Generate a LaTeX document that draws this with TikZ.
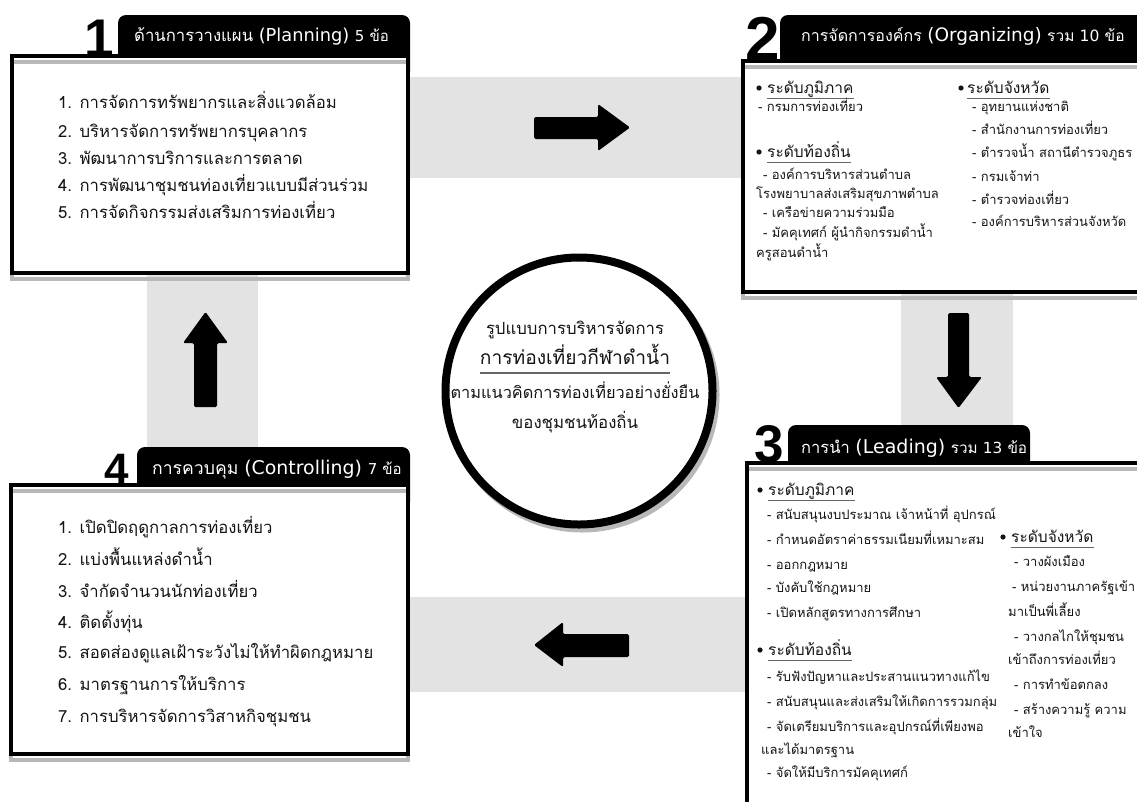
\documentclass[tikz,border=0pt]{standalone}
\usepackage{fontspec}
\setmainfont[Script=Thai]{Loma}
\newfontfamily\numfont{Liberation Sans}
\newfontfamily\latf{DejaVu Sans}
\usetikzlibrary{calc}
\newcommand\fs[1]{\fontsize{#1}{#1}\selectfont}
\definecolor{band}{gray}{0.89}
\definecolor{shad}{gray}{0.72}
\definecolor{txt}{gray}{0.08}
\tikzset{
  frame/.style={draw=black, line width=4pt},
  frameshadow/.style={draw=shad, line width=4pt},
  tabshape/.style={fill=black, rounded corners=8pt},
  bitem/.style={anchor=base west, inner sep=0pt, yshift=-5.6pt, text=txt, font=\fs{16.7}},
  sitem/.style={anchor=base west, inner sep=0pt, yshift=-4.4pt, text=txt, font=\fs{13}},
  headtext/.style={anchor=base west, inner sep=0pt, yshift=-5.2pt, text=txt, font=\fs{15.5}},
  ttl/.style={anchor=base west, inner sep=0pt, yshift=-6.5pt, text=white},
  bignum/.style={anchor=base, inner sep=0pt},
  blockarrow/.style={fill=black, rounded corners=1.5pt},
  ctext/.style={anchor=base, inner sep=0pt, yshift=-5.2pt, text=txt, font=\fs{16.7}},
  ul/.style={draw=gray!80!black, line width=0.9pt},
  bullet/.style={fill=txt},
}
\begin{document}
\begin{tikzpicture}[x=1pt,y=-1pt]
\useasboundingbox (0,0) rectangle (1137,801);
\clip (0,0) rectangle (1137,801);
\fill[white] (0,0) rectangle (1137,801);

% gray bands
\fill[band] (410,77) rectangle (745,178);
\fill[band] (147,273) rectangle (258,450);
\fill[band] (901,292) rectangle (1013,430);
\fill[band] (410,597) rectangle (747,692);

% block arrows
\fill[blockarrow] (534,117) -- (598,117) -- (598,104) -- (630,127.5) -- (598,151) -- (598,139) -- (534,139) -- cycle;
\fill[blockarrow] (948,313) -- (969,313) -- (969,377) -- (982,377) -- (958.5,408) -- (936,377) -- (948,377) -- cycle;
\fill[blockarrow] (629,634) -- (563,634) -- (563,622) -- (534,645) -- (563,667) -- (563,657) -- (629,657) -- cycle;
\fill[blockarrow] (194,407) -- (217,407) -- (217,343) -- (228,343) -- (205.5,312) -- (183,343) -- (194,343) -- cycle;

% tabs
\fill[tabshape] (118,80) -- (118,15) -- (410,15) -- (410,80) -- cycle;
\fill[tabshape] (780,80) -- (780,15) -- (1160,15) -- (1160,80) -- cycle;
\fill[tabshape] (788,490) -- (788,425) -- (1030,425) -- (1030,490) -- cycle;
\fill[tabshape] (137,510) -- (137,447) -- (410,447) -- (410,510) -- cycle;

% boxes
\fill[white] (12,56) rectangle (408,273);
\draw[frameshadow] (12,62) rectangle (408,279);
\draw[frame] (12,56) rectangle (408,273);

\fill[white] (743,61) rectangle (1150,292);
\draw[frameshadow] (743,67) rectangle (1150,298);
\draw[frame] (743,61) rectangle (1150,292);

\fill[white] (747,463) rectangle (1150,812);
\draw[frameshadow] (747,469) rectangle (1150,818);
\draw[frame] (747,463) rectangle (1150,812);

\fill[white] (11,485) rectangle (408,754);
\draw[frameshadow] (11,491) rectangle (408,760);
\draw[frame] (11,485) rectangle (408,754);

% big numbers
\node[bignum, font=\numfont\bfseries\fs{53}] (n1) at (99,56) {1};
\node[bignum, font=\numfont\bfseries\fs{62}] (n2) at (763,60) {2};
\node[bignum, font=\numfont\bfseries\fs{53}] (n3) at (769,462) {3};
\node[bignum, font=\numfont\bfseries\fs{44}] (n4) at (117,484) {4};

% titles
\node[ttl] (t1) at (134,35) {\fs{16.7}ด้านการวางแผน {\latf\fs{17.8}(Planning)} {\fs{15}{\latf 5} ข้อ}};
\node[ttl] (t2) at (801,35) {\fs{16}การจัดการองค์กร {\latf\fs{18.5}(Organizing)} {\fs{15.5}รวม {\latf 10} ข้อ}};
\node[ttl] (t3) at (801,447) {\fs{16.5}การนำ {\latf\fs{19}(Leading)} {\fs{15.3}รวม {\latf 13} ข้อ}};
\node[ttl] (t4) at (152,468) {\fs{17.6}การควบคุม {\latf\fs{18.9}(Controlling)} {\fs{15}{\latf 7} ข้อ}};

% box 1 items
\node[bitem] (p1) at (58,103) {1. การจัดการทรัพยากรและสิ่งแวดล้อม};
\node[bitem] (p2) at (58,132) {2. บริหารจัดการทรัพยากรบุคลากร};
\node[bitem] (p3) at (58,159) {3. พัฒนาการบริการและการตลาด};
\node[bitem] (p4) at (58,186) {4. การพัฒนาชุมชนท่องเที่ยวแบบมีส่วนร่วม};
\node[bitem] (p5) at (58,213) {5. การจัดกิจกรรมส่งเสริมการท่องเที่ยว};

% box 4 items
\node[bitem] (c1) at (58,528) {1. เปิดปิดฤดูกาลการท่องเที่ยว};
\node[bitem] (c2) at (58,560) {2. แบ่งพื้นแหล่งดำน้ำ};
\node[bitem] (c3) at (58,592) {3. จำกัดจำนวนนักท่องเที่ยว};
\node[bitem] (c4) at (58,623) {4. ติดตั้งทุ่น};
\node[bitem] (c5) at (58,653) {5. สอดส่องดูแลเฝ้าระวังไม่ให้ทำผิดกฎหมาย};
\node[bitem] (c6) at (58,685) {6. มาตรฐานการให้บริการ};
\node[bitem] (c7) at (58,717) {7. การบริหารจัดการวิสาหกิจชุมชน};

% box 2
\fill[bullet] (759,88) circle (2.6);
\node[headtext] (o1) at (767,88) {ระดับภูมิภาค};
\draw[ul] ($(o1.base west)+(0,5.5)$) -- ($(o1.base east)+(0,5.5)$);
\node[sitem] (o2) at (758,107) {- กรมการท่องเที่ยว};
\fill[bullet] (759,152) circle (2.6);
\node[headtext] (o3) at (767,152) {ระดับท้องถิ่น};
\draw[ul] ($(o3.base west)+(0,5.5)$) -- ($(o3.base east)+(0,5.5)$);
\node[sitem] (o4) at (763,175) {- องค์การบริหารส่วนตำบล};
\node[sitem] (o5) at (756,194) {โรงพยาบาลส่งเสริมสุขภาพตำบล};
\node[sitem] (o6) at (763,213) {- เครือข่ายความร่วมมือ};
\node[sitem] (o7) at (763,233) {- มัคคุเทศก์ ผู้นำกิจกรรมดำน้ำ};
\node[sitem] (o8) at (756,253) {ครูสอนดำน้ำ};

\fill[bullet] (961,88) circle (2.6);
\node[headtext] (o9) at (967,88) {ระดับจังหวัด};
\draw[ul] ($(o9.base west)+(0,5.5)$) -- ($(o9.base east)+(0,5.5)$);
\node[sitem] (o10) at (972,107) {- อุทยานแห่งชาติ};
\node[sitem] (o11) at (972,130) {- สำนักงานการท่องเที่ยว};
\node[sitem] (o12) at (972,153) {- ตำรวจน้ำ สถานีตำรวจภูธร};
\node[sitem] (o13) at (972,177) {- กรมเจ้าท่า};
\node[sitem] (o14) at (972,200) {- ตำรวจท่องเที่ยว};
\node[sitem] (o15) at (972,222) {- องค์การบริหารส่วนจังหวัด};

% box 3
\fill[bullet] (760,490) circle (2.6);
\node[headtext] (l1) at (768,490) {ระดับภูมิภาค};
\draw[ul] ($(l1.base west)+(0,5.5)$) -- ($(l1.base east)+(0,5.5)$);
\node[sitem] (l2) at (767,515) {- สนับสนุนงบประมาณ เจ้าหน้าที่ อุปกรณ์};
\node[sitem] (l3) at (767,540) {- กำหนดอัตราค่าธรรมเนียมที่เหมาะสม};
\node[sitem] (l4) at (767,565) {- ออกกฎหมาย};
\node[sitem] (l5) at (767,588) {- บังคับใช้กฎหมาย};
\node[sitem] (l6) at (767,613) {- เปิดหลักสูตรทางการศึกษา};
\fill[bullet] (760,650) circle (2.6);
\node[headtext] (l7) at (768,650) {ระดับท้องถิ่น};
\draw[ul] ($(l7.base west)+(0,5.5)$) -- ($(l7.base east)+(0,5.5)$);
\node[sitem] (l8) at (767,677) {- รับฟังปัญหาและประสานแนวทางแก้ไข};
\node[sitem] (l9) at (767,702) {- สนับสนุนและส่งเสริมให้เกิดการรวมกลุ่ม};
\node[sitem] (l10) at (767,727) {- จัดเตรียมบริการและอุปกรณ์ที่เพียงพอ};
\node[sitem] (l11) at (761,750) {และได้มาตรฐาน};
\node[sitem] (l12) at (767,773) {- จัดให้มีบริการมัคคุเทศก์};

\fill[bullet] (1003,537) circle (2.6);
\node[headtext] (l13) at (1011,537) {ระดับจังหวัด};
\draw[ul] ($(l13.base west)+(0,5.5)$) -- ($(l13.base east)+(0,5.5)$);
\node[sitem] (l14) at (1014,562) {- วางผังเมือง};
\node[sitem] (l15) at (1012,587) {- หน่วยงานภาครัฐเข้า};
\node[sitem] (l16) at (1008,612) {มาเป็นพี่เลี้ยง};
\node[sitem] (l17) at (1014,637) {- วางกลไกให้ชุมชน};
\node[sitem] (l18) at (1008,660) {เข้าถึงการท่องเที่ยว};
\node[sitem] (l19) at (1014,685) {- การทำข้อตกลง};
\node[sitem] (l20) at (1014,710) {- สร้างความรู้ ความ};
\node[sitem] (l21) at (1008,733) {เข้าใจ};

% centre circle
\draw[shad, line width=8pt] (582,395) circle (133.5);
\node[draw=black, line width=8pt, circle, minimum size=267pt, inner sep=0pt, fill=white] (ctr) at (579,391) {};
\node[ctext] (m1) at (575,329) {รูปแบบการบริหารจัดการ};
\node[ctext, yshift=-0.8pt, font=\fs{19.2}] (m2) at (575,358) {การท่องเที่ยวกีฬาดำน้ำ};
\draw[ul, line width=1.2pt] ($(m2.base west)+(0,9)$) -- ($(m2.base east)+(0,9)$);
\node[ctext, font=\fs{16.3}] (m3) at (575,393) {ตามแนวคิดการท่องเที่ยวอย่างยั่งยืน};
\node[ctext, font=\fs{16.8}] (m4) at (575,423) {ของชุมชนท้องถิ่น};
\end{tikzpicture}
\end{document}
